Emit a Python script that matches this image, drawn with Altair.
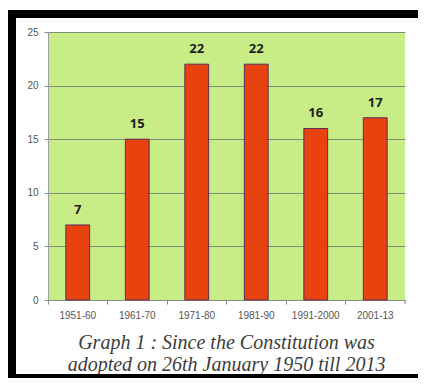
import altair as alt
import pandas as pd

periods = ["1951-60", "1961-70", "1971-80", "1981-90", "1991-2000", "2001-13"]
amendments = [7, 15, 22, 22, 16, 17]
y_ticks = [0, 5, 10, 15, 20, 25]
caption_lines = [
    "Graph 1 : Since the Constitution was",
    "adopted on 26th January 1950 till 2013",
]

W, H = 357, 268
df = pd.DataFrame({"period": periods, "n": amendments})

x_enc = alt.X(
    "period:N",
    sort=periods,
    scale=alt.Scale(paddingInner=0, paddingOuter=0),
    axis=alt.Axis(
        title=None,
        labelAngle=0,
        bandPosition=0,
        domainColor="#8a8a8a",
        tickColor="#8a8a8a",
        tickSize=4,
        labelFont="Liberation Sans",
        labelFontSize=10,
        labelColor="#555555",
        labelPadding=6,
    ),
)
y_enc = alt.Y(
    "n:Q",
    scale=alt.Scale(domain=[0, 25], nice=False),
    axis=alt.Axis(
        title=None,
        values=y_ticks,
        grid=True,
        gridColor="#7c8f72",
        gridWidth=1,
        domainColor="#a0a0a0",
        tickColor="#8a8a8a",
        tickSize=4,
        labelFont="Liberation Sans",
        labelFontSize=10,
        labelColor="#555555",
        labelPadding=6,
    ),
)

base = alt.Chart(df)
bars = base.mark_bar(
    width=alt.RelativeBandSize(0.4),
    color="#e8420f",
    stroke="#5a2c5c",
    strokeWidth=1,
).encode(x=x_enc, y=y_enc)

labels = base.mark_text(
    baseline="bottom",
    dy=-8,
    font="Open Sans",
    fontWeight="bold",
    fontSize=13,
    color="#1e1e1e",
).encode(x=alt.X("period:N", sort=periods), y="n:Q", text="n:Q")

one = pd.DataFrame({"k": [0]})
end_tick = alt.Chart(one).mark_rule(color="#8a8a8a").encode(
    x=alt.value(W), y=alt.value(H), y2=alt.value(H + 4)
)

serif = "Times New Roman, Liberation Serif, serif"
cap1 = alt.Chart(one).mark_text(
    font=serif, fontStyle="italic", fontSize=20, color="#3c3c3c",
    align="center", baseline="middle",
).encode(x=alt.value(W / 2), y=alt.value(311), text=alt.value(caption_lines[0]))
cap2 = alt.Chart(one).mark_text(
    font=serif, fontStyle="italic", fontSize=20, color="#3c3c3c",
    align="center", baseline="middle",
).encode(x=alt.value(W / 2), y=alt.value(333), text=alt.value(caption_lines[1]))

frame = alt.Chart(one).mark_rect(
    filled=False, stroke="black", strokeWidth=8
).encode(x=alt.value(-36), x2=alt.value(374), y=alt.value(-18), y2=alt.value(346))

chart = (
    alt.layer(bars, labels, end_tick, cap1, cap2, frame)
    .properties(
        width=W,
        height=H,
        padding={"left": 40, "top": 24, "right": 13, "bottom": 78},
        autosize=alt.AutoSizeParams(type="none"),
        background="white",
    )
    .configure_view(fill="#c8ed86", stroke=None)
)

chart.save("out.html", embed_options={"renderer": "svg", "actions": False})
